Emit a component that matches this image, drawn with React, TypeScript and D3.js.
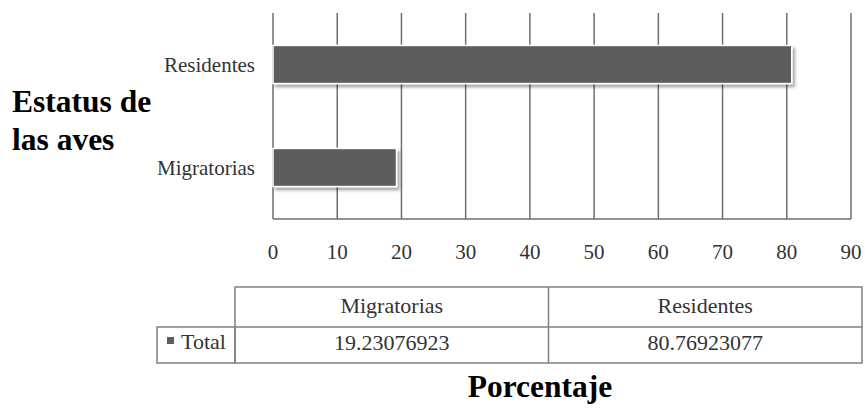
import React from "react";
import * as d3 from "d3";

// Bird status shares (percent)
const categories = ["Migratorias", "Residentes"];
const totals = [19.23076923, 80.76923077];
const seriesName = "Total";
const xMax = 90;
const yTitleLines = ["Estatus de", "las aves"];
const xTitle = "Porcentaje";

const W = 865;
const H = 412;
const SERIF = '"Liberation Serif", "Times New Roman", Tinos, "DejaVu Serif", serif';

export default function App() {
  const plot = { left: 273, right: 851, top: 13, bottom: 219 };

  const x = d3.scaleLinear().domain([0, xMax]).range([plot.left, plot.right]);
  const y = d3
    .scaleBand<string>()
    .domain([...categories].reverse())
    .range([plot.top, plot.bottom])
    .paddingInner(0.63)
    .paddingOuter(0.315);

  const ticks = x.ticks(9);
  const fmt = d3.format(".8f");

  // data table under the axis
  const tbl = { left: 157, colStart: 235, right: 862, top: 287, mid: 327, bottom: 363 };
  const col = d3.scaleBand<string>().domain(categories).range([tbl.colStart, tbl.right]);

  const gridColor = "#6f6f6f";
  const tableColor = "#808080";
  const textColor = "#333";
  const barColor = "#5d5d5d";
  const ts = { fontFamily: SERIF };

  return (
    <svg
      width={W}
      height={H}
      style={{ position: "absolute", left: 0, top: 0, background: "#fff", fontFamily: SERIF }}
    >
      <defs>
        <filter id="barShadow" x="-5%" y="-20%" width="115%" height="160%">
          <feDropShadow dx="2.5" dy="3" stdDeviation="1.5" floodColor="#000" floodOpacity="0.35" />
        </filter>
      </defs>

      {/* vertical gridlines */}
      {ticks.map((t) => (
        <line
          key={t}
          x1={x(t)}
          x2={x(t)}
          y1={plot.top}
          y2={plot.bottom}
          stroke={gridColor}
          strokeWidth={1.5}
        />
      ))}
      <line x1={plot.left} x2={plot.right} y1={plot.bottom} y2={plot.bottom} stroke={gridColor} strokeWidth={1.5} />

      {/* bars */}
      {categories.map((c, i) => (
        <rect
          key={c}
          x={x(0)}
          y={y(c)!}
          width={x(totals[i]) - x(0)}
          height={y.bandwidth()}
          fill={barColor}
          stroke="#fff"
          strokeWidth={1.5}
          filter="url(#barShadow)"
        />
      ))}

      {/* category labels */}
      {categories.map((c) => (
        <text
          key={c}
          x={255}
          y={y(c)! + y.bandwidth() / 2}
          dy="0.35em"
          textAnchor="end"
          fontSize={21}
          fill={textColor}
          style={ts}
        >
          {c}
        </text>
      ))}

      {/* x tick labels */}
      {ticks.map((t) => (
        <text key={t} x={x(t)} y={259} textAnchor="middle" fontSize={21} fill={textColor} style={ts}>
          {t}
        </text>
      ))}

      {/* y title */}
      {yTitleLines.map((l, i) => (
        <text key={l} x={12} y={112 + i * 38} fontSize={31.5} fontWeight="bold" fill="#000" style={ts}>
          {l}
        </text>
      ))}

      {/* table */}
      <g stroke={tableColor} strokeWidth={1.5} fill="none">
        <rect x={tbl.colStart} y={tbl.top} width={tbl.right - tbl.colStart} height={tbl.bottom - tbl.top} />
        <rect x={tbl.left} y={tbl.mid} width={tbl.colStart - tbl.left} height={tbl.bottom - tbl.mid} />
        <line x1={tbl.colStart} x2={tbl.right} y1={tbl.mid} y2={tbl.mid} />
        {categories.slice(1).map((c) => (
          <line key={c} x1={col(c)!} x2={col(c)!} y1={tbl.top} y2={tbl.bottom} />
        ))}
      </g>
      {categories.map((c, i) => (
        <g key={c}>
          <text
            x={col(c)! + col.bandwidth() / 2}
            y={313}
            textAnchor="middle"
            fontSize={22}
            fill={textColor}
            style={ts}
          >
            {c}
          </text>
          <text
            x={col(c)! + col.bandwidth() / 2}
            y={350}
            textAnchor="middle"
            fontSize={22}
            fill={textColor}
            style={ts}
          >
            {fmt(totals[i])}
          </text>
        </g>
      ))}
      <rect x={167} y={337} width={7} height={7} fill={barColor} />
      <text x={181} y={349} fontSize={22} fill={textColor} style={ts}>
        {seriesName}
      </text>

      {/* x title */}
      <text x={540} y={397} textAnchor="middle" fontSize={31.5} fontWeight="bold" fill="#000" style={ts}>
        {xTitle}
      </text>
    </svg>
  );
}
